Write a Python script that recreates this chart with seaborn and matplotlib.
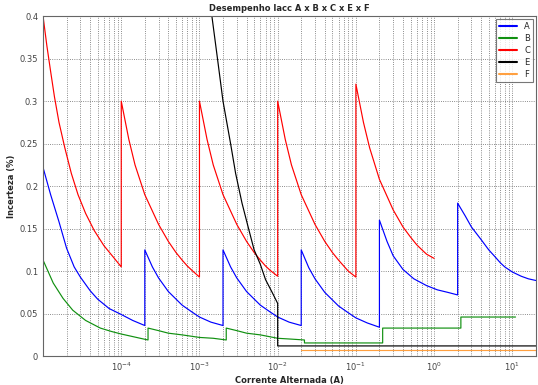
# Desempenho Iacc: incerteza x corrente alternada (faixas A, B, C, E, F)
import matplotlib
matplotlib.use("Agg")
import matplotlib.pyplot as plt
import seaborn as sns

# corrente (A) e incerteza (%), faixa por faixa
a_current = [1e-5, 1.25e-5, 1.6e-5, 2e-5, 2.5e-5, 3e-5, 4e-5, 5e-5, 7e-5, 1e-4, 1.4e-4, 2e-4,
             2e-4, 2.5e-4, 3e-4, 4e-4, 6e-4, 8e-4, 1e-3, 1.4e-3, 2e-3,
             2e-3, 2.5e-3, 3e-3, 4e-3, 6e-3, 8e-3, 1e-2, 1.4e-2, 2e-2,
             2e-2, 2.5e-2, 3e-2, 4e-2, 6e-2, 8e-2, 0.1, 0.14, 0.2,
             0.2, 0.25, 0.3, 0.4, 0.55, 0.8, 1.1, 1.5, 2,
             2, 2.5, 3, 4, 5, 6, 7, 8, 10, 13, 16, 20]
a_value = [0.222, 0.19, 0.158, 0.127, 0.105, 0.093, 0.077, 0.067, 0.056, 0.049, 0.042, 0.036,
           0.125, 0.105, 0.092, 0.076, 0.060, 0.052, 0.046, 0.040, 0.036,
           0.125, 0.105, 0.092, 0.076, 0.060, 0.052, 0.046, 0.040, 0.036,
           0.125, 0.104, 0.091, 0.075, 0.059, 0.051, 0.045, 0.039, 0.034,
           0.160, 0.135, 0.118, 0.102, 0.091, 0.083, 0.078, 0.075, 0.072,
           0.180, 0.165, 0.152, 0.137, 0.125, 0.117, 0.110, 0.105, 0.099, 0.094, 0.091, 0.089]

b_current = [1e-5, 1.35e-5, 1.8e-5, 2.4e-5, 3.5e-5, 5.4e-5, 7.5e-5, 1e-4, 1.4e-4, 1.75e-4, 2.2e-4,
             2.2e-4, 3e-4, 4e-4, 6e-4, 1e-3, 1.5e-3, 2.2e-3,
             2.2e-3, 3e-3, 4e-3, 6e-3, 1e-2, 1.5e-2, 2.2e-2,
             2.2e-2, 0.22,
             0.22, 2.2,
             2.2, 11]
b_value = [0.113, 0.086, 0.068, 0.054, 0.042, 0.033, 0.029, 0.026, 0.023, 0.021, 0.019,
           0.033, 0.030, 0.027, 0.025, 0.022, 0.021, 0.019,
           0.033, 0.030, 0.027, 0.025, 0.021, 0.020, 0.019,
           0.0155, 0.0155,
           0.033, 0.033,
           0.046, 0.046]

c_current = [1e-5, 1.12e-5, 1.25e-5, 1.4e-5, 1.6e-5, 1.9e-5, 2.3e-5, 2.8e-5, 3.5e-5, 4.5e-5, 6e-5, 8e-5, 1e-4,
             1e-4, 1.25e-4, 1.5e-4, 2e-4, 3e-4, 4e-4, 5e-4, 6e-4, 7e-4, 8e-4, 1e-3,
             1e-3, 1.25e-3, 1.5e-3, 2e-3, 3e-3, 4e-3, 5e-3, 6e-3, 7e-3, 8e-3, 1e-2,
             1e-2, 1.25e-2, 1.5e-2, 2e-2, 3e-2, 4e-2, 5e-2, 6e-2, 7e-2, 8e-2, 0.1,
             0.1, 0.125, 0.15, 0.2, 0.3, 0.4, 0.5, 0.6, 0.7, 0.8, 1]
c_value = [0.400, 0.365, 0.335, 0.305, 0.275, 0.245, 0.215, 0.190, 0.168, 0.148, 0.130, 0.116, 0.105,
           0.300, 0.255, 0.225, 0.190, 0.155, 0.135, 0.122, 0.113, 0.106, 0.101, 0.093,
           0.300, 0.255, 0.225, 0.190, 0.155, 0.135, 0.122, 0.113, 0.106, 0.101, 0.094,
           0.300, 0.255, 0.225, 0.190, 0.155, 0.135, 0.122, 0.113, 0.106, 0.100, 0.093,
           0.320, 0.275, 0.245, 0.208, 0.172, 0.152, 0.140, 0.131, 0.125, 0.120, 0.115]

e_current = [1.35e-3, 1.7e-3, 2e-3, 2.5e-3, 2.9e-3, 3.5e-3, 4.3e-3, 5e-3, 6e-3, 7e-3, 8.5e-3, 1e-2,
             1e-2, 20]
e_value = [0.420, 0.350, 0.300, 0.250, 0.215, 0.180, 0.148, 0.125, 0.108, 0.090, 0.075, 0.062,
           0.012, 0.012]

f_current = [2e-2, 20]
f_value = [0.007, 0.007]

series = [("A", a_current, a_value, "#0000ff"),
          ("B", b_current, b_value, "#109010"),
          ("C", c_current, c_value, "#ff0000"),
          ("E", e_current, e_value, "#000000"),
          ("F", f_current, f_value, "#ffa040")]

sns.set_style("white")
plt.rcParams["font.family"] = ["DejaVu Sans"]

fig = plt.figure(figsize=(5.38, 3.85), dpi=100)
ax = fig.add_axes([0.080, 0.075, 0.916, 0.883])

for name, xs, ys, col in series:
    sns.lineplot(x=xs, y=ys, ax=ax, color=col, label=name, linewidth=0.85,
                 estimator=None, sort=False)

ax.set_xscale("log")
ax.set_xlim(1e-5, 20)
ax.set_ylim(0, 0.4)
ax.set_xticks([1e-4, 1e-3, 1e-2, 1e-1, 1e0, 1e1])
ax.set_xticklabels(["$10^{-4}$", "$10^{-3}$", "$10^{-2}$", "$10^{-1}$", "$10^{0}$", "$10^{1}$"])
ax.set_yticks([0, 0.05, 0.1, 0.15, 0.2, 0.25, 0.3, 0.35, 0.4])
ax.set_yticklabels(["0", "0.05", "0.1", "0.15", "0.2", "0.25", "0.3", "0.35", "0.4"])
ax.tick_params(axis="both", which="both", direction="in", labelsize=6, length=3, colors="#444444")
ax.tick_params(axis="x", which="minor", length=2)

ax.grid(True, which="major", axis="both", linestyle=":", color="#666666", linewidth=0.6)
ax.grid(True, which="minor", axis="x", linestyle=":", color="#666666", linewidth=0.6)
ax.set_axisbelow(True)
for sp in ax.spines.values():
    sp.set_color("#666666")
    sp.set_linewidth(0.8)

ax.set_title("Desempenho Iacc A x B x C x E x F", fontsize=6, fontweight="bold", pad=4)
ax.set_xlabel("Corrente Alternada (A)", fontsize=6, fontweight="bold", labelpad=2)
ax.set_ylabel("Incerteza (%)", fontsize=6, fontweight="bold", labelpad=3)

leg = ax.legend(loc="upper right", fontsize=6, frameon=True, fancybox=False,
                handlelength=2.2, borderpad=0.4, labelspacing=0.35, borderaxespad=0.3)
leg.get_frame().set_edgecolor("#555555")
leg.get_frame().set_linewidth(0.8)
for h in leg.get_lines():
    h.set_linewidth(1.5)

fig.savefig("out.png", dpi=100)
